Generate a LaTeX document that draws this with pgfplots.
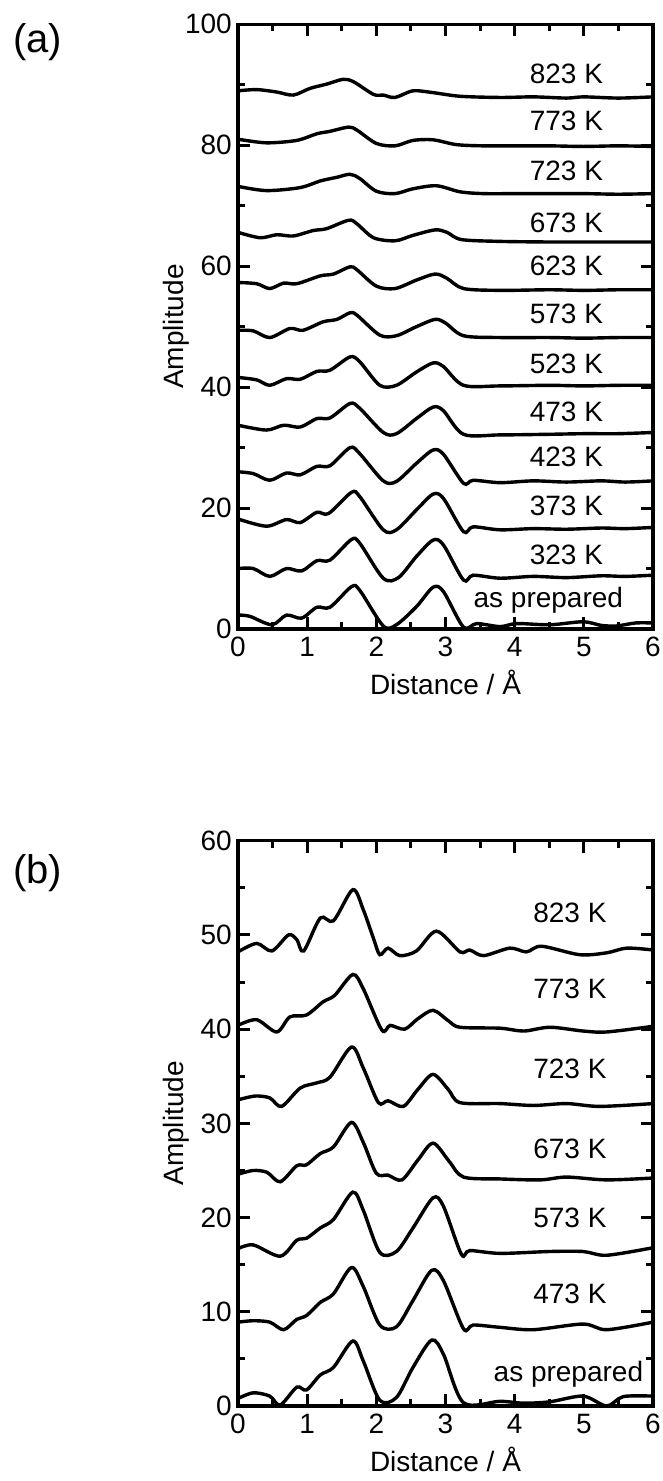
\documentclass[border=0pt]{standalone}
\usepackage{fontspec}
\setmainfont{Liberation Sans}
\usepackage{pgfplots}
\pgfplotsset{compat=1.18}
\tikzset{lbl/.style={anchor=base east, inner sep=0pt}}
\pgfplotsset{
  myaxis/.style={
    scale only axis, width=415bp,
    xmin=0, xmax=6, xtick={0,1,...,6}, minor x tick num=1,
    /pgf/number format/assume math mode=true,
    tick align=inside, tick pos=both,
    major tick length=12bp, minor tick length=7bp,
    every tick/.style={black, line width=3bp},
    axis line style={line width=3.4bp},
    every outer x axis line/.append style={line width=3.4bp},
    every outer y axis line/.append style={line width=3.4bp},
    xticklabel style={inner sep=0pt, anchor=north, yshift=-8bp},
    yticklabel style={inner sep=0pt, anchor=east, xshift=-6bp},
    xlabel={Distance / Å},
    xlabel style={at={(axis description cs:0.5,0)}, anchor=base, inner sep=0pt, yshift=-65bp},
    ylabel={Amplitude},
    ylabel style={at={(axis description cs:-0.1325,0.5)}, anchor=base, inner sep=0pt},
    cycle list={black,solid,line width=3.4bp,smooth,mark=none\\},
  }
}
\begin{document}
\fontsize{28bp}{34bp}\selectfont
\begin{tikzpicture}
\path[use as bounding box] (0bp,0bp) rectangle (663bp,-1481bp);
\begin{axis}[myaxis, at={(238bp,-24.3bp)}, anchor=north west, height=604.7bp,
  ymin=0, ymax=100, ytick={0,20,...,100}, minor y tick num=1]
% 823 K
\addplot coordinates {(0,89.0)(0.27,89.2)(0.56,88.8)(0.80,88.3)(1.04,89.4)(1.28,90.1)(1.52,90.9)(1.67,90.5)(1.96,88.4)(2.10,88.3)(2.27,87.9)(2.53,89.0)(2.82,88.7)(3.21,88.1)(3.79,87.9)(4.27,88.0)(4.75,87.8)(5.0,88.0)(5.5,87.8)(6.0,88.0)};
% 773 K
\addplot coordinates {(0,81.0)(0.41,80.4)(0.85,80.8)(1.14,81.9)(1.33,82.3)(1.60,83.0)(1.72,82.5)(2.00,80.3)(2.27,79.9)(2.53,80.8)(2.82,80.9)(3.16,80.1)(3.55,79.9)(4.03,79.9)(4.5,79.9)(5.0,79.8)(5.5,79.9)(6.0,79.8)};
% 723 K
\addplot coordinates {(0,73.2)(0.41,72.5)(0.90,73.0)(1.19,74.1)(1.43,74.7)(1.62,75.2)(1.76,74.5)(2.00,72.4)(2.27,72.0)(2.53,72.8)(2.87,73.3)(3.21,72.3)(3.55,72.0)(4.03,72.0)(4.5,72.0)(5.0,72.0)(5.5,71.9)(6.0,72.0)};
% 673 K
\addplot coordinates {(0,65.6)(0.32,64.7)(0.56,65.2)(0.80,65.0)(1.09,65.9)(1.28,66.2)(1.60,67.6)(1.72,67.0)(1.96,64.7)(2.27,64.2)(2.53,65.1)(2.85,66.0)(3.02,65.6)(3.23,64.4)(3.79,64.1)(4.5,64.0)(5.0,64.0)(5.5,64.0)(6.0,64.0)};
% 623 K
\addplot coordinates {(0,57.3)(0.27,57.1)(0.46,56.3)(0.66,57.2)(0.85,57.1)(1.19,58.4)(1.38,58.7)(1.62,59.9)(1.72,59.4)(2.00,56.7)(2.27,56.3)(2.58,57.7)(2.85,58.7)(3.02,58.0)(3.26,56.3)(3.79,56.0)(4.5,56.1)(5.0,56.0)(5.5,56.1)(6.0,56.1)};
% 573 K
\addplot coordinates {(0,49.4)(0.22,49.3)(0.46,48.2)(0.75,49.7)(0.94,49.4)(1.23,50.8)(1.43,51.2)(1.62,52.3)(1.72,51.9)(2.05,48.6)(2.29,48.5)(2.58,50.0)(2.85,51.2)(3.0,50.6)(3.26,48.5)(3.79,48.2)(4.5,48.2)(5.0,48.1)(5.5,48.2)(6.0,48.2)};
% 523 K
\addplot coordinates {(0,41.6)(0.27,41.2)(0.46,40.3)(0.70,41.4)(0.90,41.3)(1.14,42.6)(1.33,42.8)(1.62,45.0)(1.76,44.2)(2.05,40.3)(2.29,40.3)(2.58,42.5)(2.82,44.0)(2.97,43.4)(3.26,40.3)(3.79,40.2)(4.5,40.3)(5.0,40.2)(5.5,40.3)(6.0,40.3)};
% 473 K
\addplot coordinates {(0,33.7)(0.41,32.9)(0.66,33.7)(0.90,33.4)(1.14,34.8)(1.33,34.9)(1.62,37.3)(1.76,36.5)(2.10,32.5)(2.29,32.3)(2.58,34.8)(2.82,36.7)(2.97,36.1)(3.26,32.2)(3.79,32.1)(4.5,32.2)(5.0,32.3)(5.5,32.3)(6.0,32.5)};
% 423 K
\addplot coordinates {(0,26.0)(0.22,25.7)(0.46,24.6)(0.70,25.8)(0.90,25.5)(1.14,26.9)(1.33,27.0)(1.62,30.0)(1.76,29.0)(2.10,24.5)(2.29,24.4)(2.58,27.4)(2.82,29.6)(2.97,28.9)(3.26,24.1)(3.40,24.6)(3.79,24.2)(4.27,24.5)(4.75,24.3)(5.25,24.5)(5.6,24.3)(6.0,24.5)};
% 373 K
\addplot coordinates {(0,18.2)(0.41,17.0)(0.70,18.1)(0.90,17.6)(1.14,19.3)(1.31,19.1)(1.64,22.6)(1.76,21.9)(2.10,16.4)(2.29,16.4)(2.58,19.7)(2.82,22.3)(2.97,21.6)(3.26,16.1)(3.40,16.9)(3.79,16.4)(4.27,16.6)(4.75,16.5)(5.25,16.7)(5.6,16.6)(6.0,16.8)};
% 323 K
\addplot coordinates {(0,10.0)(0.22,10.0)(0.46,8.7)(0.70,10.0)(0.92,9.6)(1.14,11.3)(1.33,11.4)(1.64,14.8)(1.76,14.2)(2.10,8.4)(2.32,8.5)(2.58,12.0)(2.82,14.7)(2.97,13.9)(3.26,8.1)(3.40,8.9)(3.79,8.4)(4.27,8.7)(4.75,8.5)(5.25,8.8)(5.6,8.7)(6.0,8.9)};
% as prepared
\addplot coordinates {(0,2.3)(0.17,2.1)(0.49,0.7)(0.70,2.3)(0.92,1.8)(1.14,3.6)(1.33,3.6)(1.64,7.0)(1.76,6.4)(2.10,0.5)(2.29,0.7)(2.58,3.7)(2.82,6.9)(2.97,6.2)(3.26,0.3)(3.45,0.9)(3.79,0.4)(4.03,0.9)(4.51,0.7)(4.99,1.2)(5.25,0.6)(5.47,0.5)(5.75,1.0)(6.0,1.0)};
\node[lbl] at (axis cs:5.28,90.2) {823 K};
\node[lbl] at (axis cs:5.28,82.4) {773 K};
\node[lbl] at (axis cs:5.28,74.2) {723 K};
\node[lbl] at (axis cs:5.28,65.5) {673 K};
\node[lbl] at (axis cs:5.28,58.5) {623 K};
\node[lbl] at (axis cs:5.28,50.6) {573 K};
\node[lbl] at (axis cs:5.28,42.3) {523 K};
\node[lbl] at (axis cs:5.28,34.3) {473 K};
\node[lbl] at (axis cs:5.28,26.8) {423 K};
\node[lbl] at (axis cs:5.28,18.7) {373 K};
\node[lbl] at (axis cs:5.28,10.7) {323 K};
\node[lbl] at (axis cs:5.57,3.6) {as prepared};
\end{axis}
\begin{axis}[myaxis, at={(238bp,-840.7bp)}, anchor=north west, height=565.3bp,
  ymin=0, ymax=60, ytick={0,10,...,60}, minor y tick num=1]
% 823 K
\addplot coordinates {(0,48.2)(0.27,49.1)(0.49,48.3)(0.73,50.0)(0.85,49.5)(0.95,48.3)(1.19,51.8)(1.38,51.5)(1.66,54.8)(1.81,52.7)(1.96,49.6)(2.05,47.9)(2.17,48.6)(2.34,47.8)(2.58,48.3)(2.87,50.4)(3.21,48.2)(3.35,48.4)(3.55,47.8)(3.93,48.6)(4.17,48.2)(4.39,48.8)(4.94,47.9)(5.33,48.1)(5.62,48.6)(6.0,48.4)};
% 773 K
\addplot coordinates {(0,40.4)(0.27,41.0)(0.56,39.7)(0.75,41.3)(0.99,41.5)(1.23,42.9)(1.40,43.6)(1.66,45.8)(1.81,44.3)(2.08,39.9)(2.20,40.4)(2.41,40.0)(2.60,41.1)(2.82,42.0)(3.04,40.9)(3.21,40.2)(3.79,40.1)(4.13,39.8)(4.51,40.2)(4.99,39.8)(5.33,39.7)(6.0,40.3)};
% 723 K
\addplot coordinates {(0,32.5)(0.25,32.9)(0.46,32.7)(0.63,31.8)(0.90,33.75)(1.14,34.3)(1.33,34.9)(1.64,38.1)(1.81,35.9)(2.03,32.2)(2.17,32.4)(2.39,31.8)(2.60,33.6)(2.82,35.2)(3.04,33.6)(3.21,32.2)(3.79,32.1)(4.27,31.9)(4.75,32.1)(5.23,31.8)(6.0,32.1)};
% 673 K
\addplot coordinates {(0,24.6)(0.22,25.0)(0.42,24.8)(0.61,23.8)(0.85,25.5)(0.99,25.6)(1.19,26.8)(1.38,27.5)(1.64,30.1)(1.81,28.0)(2.00,24.7)(2.17,24.5)(2.37,24.0)(2.60,26.1)(2.82,27.9)(3.05,26.0)(3.26,24.3)(3.79,24.1)(4.37,24.0)(4.75,24.3)(5.33,24.0)(6.0,24.2)};
% 573 K
\addplot coordinates {(0,16.7)(0.22,17.1)(0.61,15.9)(0.85,17.6)(0.99,17.8)(1.19,18.9)(1.38,19.8)(1.66,22.7)(1.81,20.8)(2.05,16.3)(2.29,16.4)(2.53,18.9)(2.82,22.1)(2.97,21.2)(3.23,16.1)(3.35,16.5)(3.79,16.2)(4.51,16.4)(4.99,16.4)(5.33,16.0)(6.0,16.8)};
% 473 K
\addplot coordinates {(0,8.9)(0.22,9.05)(0.46,8.9)(0.66,8.1)(0.85,9.2)(0.99,9.6)(1.19,11.0)(1.38,11.9)(1.64,14.7)(1.81,12.7)(2.05,8.6)(2.29,8.4)(2.53,11.2)(2.80,14.4)(2.97,13.3)(3.26,8.2)(3.40,8.6)(3.79,8.35)(4.27,8.1)(4.99,8.7)(5.33,8.1)(6.0,8.9)};
% as prepared
\addplot coordinates {(0,0.8)(0.22,1.4)(0.46,1.05)(0.61,0.1)(0.85,2.0)(0.99,1.7)(1.19,3.3)(1.38,4.1)(1.66,6.9)(1.81,4.8)(2.05,0.6)(2.29,0.9)(2.53,4.1)(2.80,7.0)(2.97,5.5)(3.26,0.35)(3.79,0.5)(4.13,0.3)(4.51,0.45)(4.99,1.05)(5.33,0.0)(5.57,1.0)(6.0,1.05)};
\node[lbl] at (axis cs:5.33,51.3) {823 K};
\node[lbl] at (axis cs:5.33,43.3) {773 K};
\node[lbl] at (axis cs:5.33,34.8) {723 K};
\node[lbl] at (axis cs:5.33,26.3) {673 K};
\node[lbl] at (axis cs:5.33,19.0) {573 K};
\node[lbl] at (axis cs:5.33,10.9) {473 K};
\node[lbl] at (axis cs:5.86,2.6) {as prepared};
\end{axis}
\node[font=\fontsize{40bp}{48bp}\selectfont, inner sep=0pt] at (37.5bp,-42bp) {(a)};
\node[font=\fontsize{40bp}{48bp}\selectfont, inner sep=0pt] at (37.5bp,-873bp) {(b)};
\end{tikzpicture}
\end{document}
